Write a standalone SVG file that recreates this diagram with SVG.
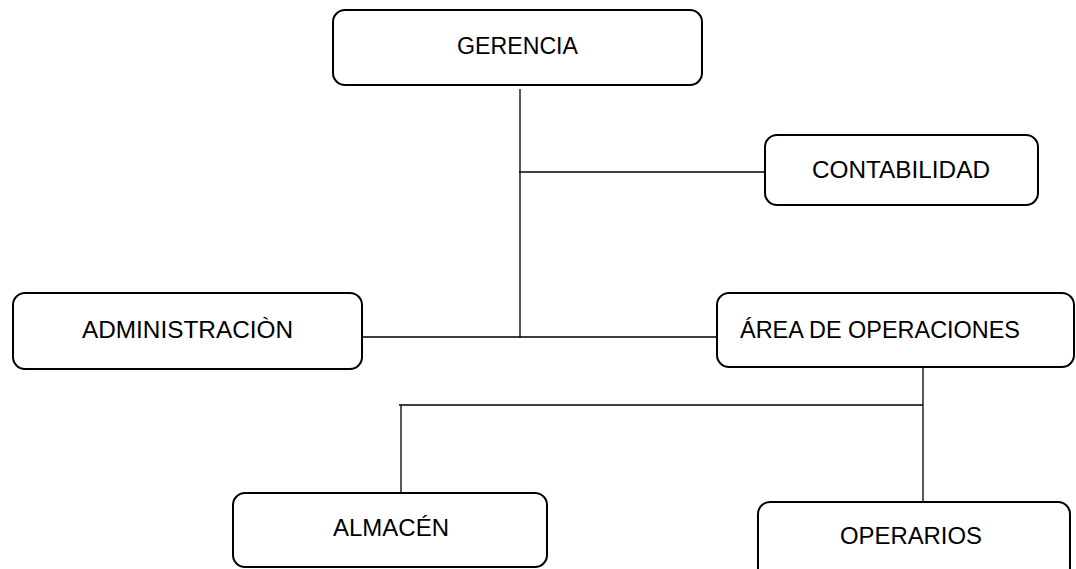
<svg xmlns="http://www.w3.org/2000/svg" width="1076" height="569" viewBox="0 0 1076 569">
<style>
.box{fill:#fff;stroke:#000;stroke-width:2}
.lbl{font-family:"Liberation Sans",Arial,sans-serif;font-size:23.5px;fill:#000;text-anchor:middle}
.ln{stroke:#000;stroke-width:1.3;fill:none}
</style>
<rect width="1076" height="569" fill="#fff"/>
<g id="connectors">
<line class="ln" x1="520" y1="89" x2="520" y2="338"/>
<line class="ln" x1="519" y1="172" x2="765" y2="172"/>
<line class="ln" x1="362" y1="337" x2="717" y2="337"/>
<line class="ln" x1="923" y1="367" x2="923" y2="502"/>
<line class="ln" x1="399" y1="405" x2="923" y2="405"/>
<line class="ln" x1="401" y1="405" x2="401" y2="493"/>
</g>
<g id="gerencia">
<rect class="box" x="333" y="10" width="369" height="75" rx="12"/>
<text class="lbl" x="517.5" y="54" textLength="121" lengthAdjust="spacingAndGlyphs">GERENCIA</text>
</g>
<g id="contabilidad">
<rect class="box" x="765" y="135" width="273" height="70" rx="12"/>
<text class="lbl" x="901" y="178" textLength="178" lengthAdjust="spacingAndGlyphs">CONTABILIDAD</text>
</g>
<g id="administracion">
<rect class="box" x="13" y="293" width="349" height="76" rx="12"/>
<text class="lbl" x="187.5" y="338" textLength="211" lengthAdjust="spacingAndGlyphs">ADMINISTRACIÒN</text>
</g>
<g id="area-operaciones">
<rect class="box" x="717" y="293" width="357" height="74" rx="12"/>
<text class="lbl" x="880" y="338" textLength="280" lengthAdjust="spacingAndGlyphs">ÁREA DE OPERACIONES</text>
</g>
<g id="almacen">
<rect class="box" x="233" y="493" width="314" height="74" rx="12"/>
<text class="lbl" x="391" y="536" textLength="116" lengthAdjust="spacingAndGlyphs">ALMACÉN</text>
</g>
<g id="operarios">
<rect class="box" x="758" y="502" width="312" height="80" rx="12"/>
<text class="lbl" x="911" y="544" textLength="142" lengthAdjust="spacingAndGlyphs">OPERARIOS</text>
</g>
</svg>
